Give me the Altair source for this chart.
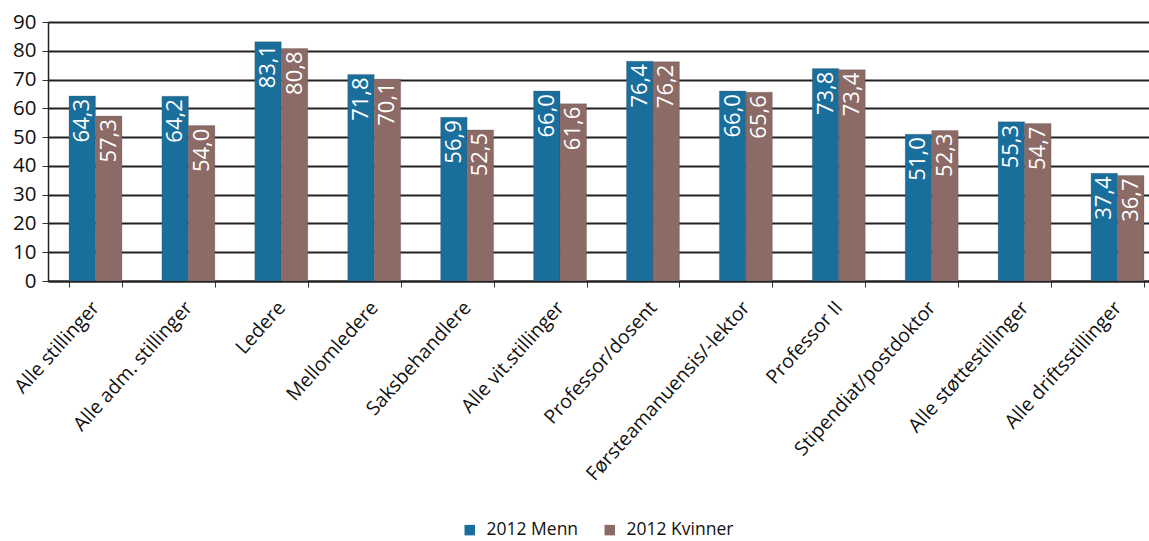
import altair as alt
import pandas as pd

categories = ["Alle stillinger", "Alle adm. stillinger", "Ledere", "Mellomledere",
              "Saksbehandlere", "Alle vit.stillinger", "Professor/dosent",
              "Førsteamanuensis/-lektor", "Professor II", "Stipendiat/postdoktor",
              "Alle støttestillinger", "Alle driftsstillinger"]
menn = [64.3, 64.2, 83.1, 71.8, 56.9, 66.0, 76.4, 66.0, 73.8, 51.0, 55.3, 37.4]
kvinner = [57.3, 54.0, 80.8, 70.1, 52.5, 61.6, 76.2, 65.6, 73.4, 52.3, 54.7, 36.7]
series = ["2012 Menn", "2012 Kvinner"]
colors = ["#1a6e9c", "#8c6a66"]
y_ticks = [0, 10, 20, 30, 40, 50, 60, 70, 80, 90]

rows = []
for i, c in enumerate(categories):
    for s, vals in zip(series, [menn, kvinner]):
        v = vals[i]
        rows.append({"cat": c, "serie": s, "verdi": v,
                     "label": f"{v:.1f}".replace(".", ",")})
df = pd.DataFrame(rows)

FONT = "Open Sans"

x = alt.X("cat:N", sort=categories, title=None,
          scale=alt.Scale(paddingInner=0.43, paddingOuter=0.226, range=[0, 1117]),
          axis=alt.Axis(labelAngle=-48, labelAlign="right", labelBaseline="middle",
                        labelFontSize=19.5, labelFont=FONT, labelColor="#111",
                        labelPadding=17, tickBand="extent", tickSize=6,
                        tickColor="#333", domainColor="#222", domainWidth=2,
                        labelLimit=400, grid=False))
y = alt.Y("verdi:Q", title=None,
          scale=alt.Scale(domain=[0, 90], nice=False),
          axis=alt.Axis(values=y_ticks, labelFontSize=20.5, labelFont=FONT,
                        labelColor="#111", labelPadding=6, tickSize=6,
                        tickColor="#333", domainColor="#222", domainWidth=1.5,
                        grid=True, gridColor="#222", gridWidth=1.8))
xo = alt.XOffset("serie:N", sort=series)

bars = alt.Chart(df).mark_bar(stroke="#4a4a4a", strokeWidth=0.4, strokeOpacity=0.6).encode(
    x=x, y=y, xOffset=xo,
    color=alt.Color("serie:N", sort=series,
                    scale=alt.Scale(domain=series, range=colors),
                    legend=alt.Legend(title=None, orient="none", direction="horizontal",
                                      legendX=413, legendY=499, symbolType="square",
                                      symbolSize=110, symbolStrokeWidth=0,
                                      labelFontSize=17.5, labelFont=FONT,
                                      labelColor="#111", labelOffset=8,
                                      columnPadding=22)),
)

labels = alt.Chart(df).mark_text(angle=270, align="right", baseline="middle",
                                 dx=-3, color="white", fontSize=22, font=FONT).encode(
    x=x, y=y, xOffset=xo, text="label:N")

chart = (bars + labels).properties(
    width=1101, height=259,
    autosize=alt.AutoSizeParams(type="none"),
    padding={"left": 48, "top": 22, "right": 0, "bottom": 260},
).configure_view(stroke=None).configure(background="white")

chart.save("out.html", embed_options={"renderer": "svg", "actions": False})
